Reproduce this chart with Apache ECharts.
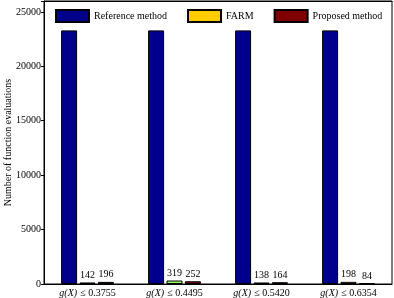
<!DOCTYPE html>
<html>
<head>
<meta charset="utf-8">
<script src="https://cdn.jsdelivr.net/npm/echarts@6/dist/echarts.min.js"></script>
<style>
  html, body { margin: 0; padding: 0; background: #fff; }
  #chart { width: 394px; height: 298px; }
</style>
</head>
<body>
<div id="chart"></div>
<script>
var categories = ['0.3755', '0.4495', '0.5420', '0.6354'];
var referenceValues = [23300, 23300, 23300, 23300];
var farmValues = [142, 319, 138, 198];
var proposedValues = [196, 252, 164, 84];
var yTicks = [0, 5000, 10000, 15000, 20000, 25000];

var serif = 'Liberation Serif';

var myChart = echarts.init(document.getElementById('chart'));

var farmData = farmValues.map(function (v, i) {
  // the 0.4495 group is drawn light green in the source figure
  if (i === 1) return { value: v, itemStyle: { color: '#99ff66' } };
  return v;
});

var labelStyle = {
  show: true,
  position: 'top',
  distance: 2,
  color: '#000',
  fontFamily: serif,
  fontSize: 10
};

myChart.setOption({
  animation: false,
  textStyle: { fontFamily: serif },
  grid: {
    left: 44,
    right: 2,
    top: 1,
    bottom: 14,
    show: true,
    borderColor: '#000',
    borderWidth: 1,
    containLabel: false,
    outerBoundsMode: 'none'
  },
  legend: {
    top: 9,
    left: 55,
    width: 340,
    padding: 0,
    icon: 'rect',
    itemWidth: 33,
    itemHeight: 12,
    itemGap: 20,
    textStyle: { fontFamily: serif, fontSize: 10, color: '#000' },
    data: ['Reference method', 'FARM', 'Proposed method']
  },
  xAxis: [
    {
      type: 'category',
      data: categories,
      axisLine: { lineStyle: { color: '#000', width: 1 } },
      axisTick: { inside: true, alignWithLabel: true, length: 5, lineStyle: { color: '#000' } },
      axisLabel: {
        interval: 0,
        margin: 3,
        color: '#000',
        formatter: function (v) { return '{i|g(X)} {n|\u2264 ' + v + '}'; },
        rich: {
          i: { fontFamily: serif, fontStyle: 'italic', fontSize: 10, color: '#000' },
          n: { fontFamily: serif, fontSize: 10, color: '#000' }
        }
      }
    },
    {
      type: 'category',
      position: 'top',
      data: categories,
      axisLine: { lineStyle: { color: '#000' } },
      axisTick: { inside: true, alignWithLabel: true, length: 5, lineStyle: { color: '#000' } },
      axisLabel: { show: false }
    }
  ],
  yAxis: {
    type: 'value',
    min: 0,
    max: 26000,
    interval: 5000,
    name: 'Number of function evaluations',
    nameLocation: 'middle',
    nameGap: 31,
    nameMoveOverlap: false,
    nameTextStyle: { fontFamily: serif, fontSize: 10, color: '#000' },
    axisLine: { show: true, lineStyle: { color: '#000' } },
    axisTick: { show: true, length: 3, lineStyle: { color: '#000' } },
    splitLine: { show: false },
    axisLabel: {
      margin: 3,
      color: '#000',
      fontFamily: serif,
      fontSize: 10,
      formatter: function (v) { return yTicks.indexOf(v) >= 0 ? String(v) : ''; }
    }
  },
  series: [
    {
      name: 'Reference method',
      type: 'bar',
      data: referenceValues,
      barWidth: 16,
      barGap: '15%',
      itemStyle: { color: '#00008c', borderColor: '#000', borderWidth: 1 }
    },
    {
      name: 'FARM',
      type: 'bar',
      data: farmData,
      barWidth: 16,
      barGap: '15%',
      itemStyle: { color: '#ffcc00', borderColor: '#000', borderWidth: 1 },
      label: labelStyle
    },
    {
      name: 'Proposed method',
      type: 'bar',
      data: proposedValues,
      barWidth: 16,
      barGap: '15%',
      itemStyle: { color: '#800000', borderColor: '#000', borderWidth: 1 },
      label: labelStyle
    }
  ]
});
</script>
</body>
</html>
